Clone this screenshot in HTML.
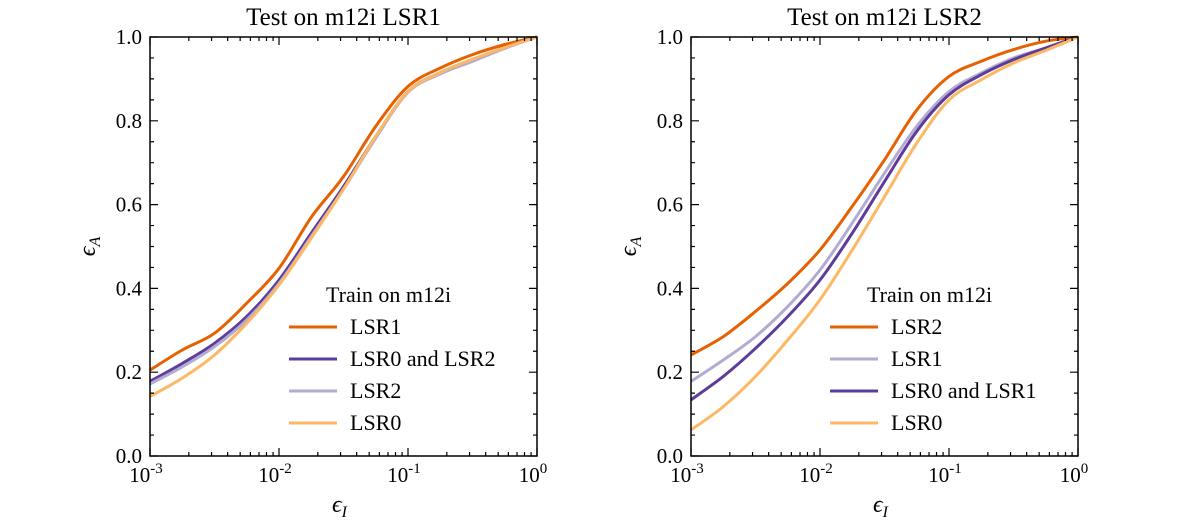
<!DOCTYPE html>
<html><head><meta charset="utf-8"><style>
body{margin:0;background:#fff;}
svg text{font-family:"Liberation Serif",serif;fill:#000;}
</style></head><body>
<svg id="c" width="1200" height="521" xmlns="http://www.w3.org/2000/svg"></svg>
<script>
const xLogs=[-3,-2.75,-2.5,-2.25,-2,-1.75,-1.5,-1.25,-1,-0.75,-0.5,-0.25,0];
const p1Names=["LSR1","LSR0 and LSR2","LSR2","LSR0"];
const p1Colors=["#e66101","#5e3c99","#b2abd2","#fdb863"];
const p1LSR1=[0.205,0.253,0.293,0.365,0.448,0.57,0.667,0.787,0.882,0.926,0.958,0.982,1];
const p1LSR02=[0.178,0.221,0.269,0.333,0.42,0.532,0.643,0.763,0.87,0.915,0.946,0.975,1];
const p1LSR2=[0.172,0.213,0.261,0.325,0.412,0.524,0.637,0.759,0.868,0.912,0.942,0.973,1];
const p1LSR0=[0.142,0.186,0.241,0.317,0.408,0.52,0.637,0.763,0.87,0.915,0.947,0.975,1];
const p2Names=["LSR2","LSR1","LSR0 and LSR1","LSR0"];
const p2Colors=["#e66101","#b2abd2","#5e3c99","#fdb863"];
const p2LSR2=[0.241,0.285,0.345,0.412,0.492,0.596,0.707,0.826,0.906,0.942,0.97,0.99,1];
const p2LSR1=[0.178,0.229,0.285,0.357,0.444,0.556,0.675,0.787,0.87,0.914,0.95,0.974,1];
const p2LSR01=[0.134,0.19,0.257,0.333,0.42,0.532,0.655,0.775,0.862,0.91,0.946,0.974,1];
const p2LSR0=[0.062,0.118,0.19,0.277,0.373,0.492,0.619,0.747,0.85,0.898,0.938,0.968,1];
const yTicks=[0,0.2,0.4,0.6,0.8,1.0];
const yTickLabels=["0.0","0.2","0.4","0.6","0.8","1.0"];
const xTicks=[-3,-2,-1,0];
const xTickExp=["-3","-2","-1","0"];

const svg=document.getElementById('c');
const NS="http://www.w3.org/2000/svg";
function mk(tag,at,parent){const e=document.createElementNS(NS,tag);for(const k in at)e.setAttribute(k,at[k]);(parent||svg).appendChild(e);return e;}
function smooth(pts){
  let d=`M${pts[0][0].toFixed(1)},${pts[0][1].toFixed(1)}`;
  for(let i=0;i<pts.length-1;i++){
    const p0=pts[Math.max(0,i-1)],p1=pts[i],p2=pts[i+1],p3=pts[Math.min(pts.length-1,i+2)];
    const c1=[p1[0]+(p2[0]-p0[0])/6,p1[1]+(p2[1]-p0[1])/6];
    const c2=[p2[0]-(p3[0]-p1[0])/6,p2[1]-(p3[1]-p1[1])/6];
    d+=`C${c1[0].toFixed(1)},${c1[1].toFixed(1)} ${c2[0].toFixed(1)},${c2[1].toFixed(1)} ${p2[0].toFixed(1)},${p2[1].toFixed(1)}`;
  }
  return d;
}

function panel(x0,title,series,names,colors,id){
  const x1=x0+387,y0=37,y1=456;
  const X=v=>x0+(v+3)/3*(x1-x0);
  const Y=v=>y1-v*(y1-y0);
  const g=mk('g',{});
  
  
  series.forEach((s,i)=>{
    const d=smooth(s.map((v,j)=>[X(xLogs[j]),Y(v)]));
    const p=mk('path',{d:d,fill:'none',stroke:colors[i],'stroke-width':3,'stroke-linejoin':'round'},g);
    
    
  });
  const fr=mk('rect',{x:x0,y:y0,width:x1-x0,height:y1-y0,fill:'none',stroke:'#000','stroke-width':1.5},g);
  
  
  let t='';
  for(let v=0;v<=1.0001;v+=0.05){const major=Math.abs(v*5-Math.round(v*5))<1e-6;const L=major?8:4;const yy=Y(v);
    t+=`M${x0},${yy}h${L}M${x1},${yy}h${-L}`;}
  for(let d=-3;d<=0;d++){const xx=X(d);t+=`M${xx},${y1}v-8M${xx},${y0}v8`;
    if(d<0)for(let m=2;m<10;m++){const xm=X(d+Math.log10(m));t+=`M${xm},${y1}v-4M${xm},${y0}v4`;}}
  mk('path',{d:t,stroke:'#000','stroke-width':1.2,fill:'none'},g);
  yTicks.forEach((v,i)=>{const tx=mk('text',{x:x0-8,y:Y(v)+7,'text-anchor':'end','font-size':21},g);tx.textContent=yTickLabels[i];
    });
  xTicks.forEach((v,i)=>{const tx=mk('text',{x:X(v)-4,y:482,'text-anchor':'middle','font-size':21},g);tx.textContent='10';
    const ts=mk('tspan',{dy:-9,'font-size':15},tx);ts.textContent=xTickExp[i];
    });
  const tt=mk('text',{x:(x0+x1)/2,y:25,'text-anchor':'middle','font-size':25},g);tt.textContent=title;
  
  const xl=mk('text',{x:(x0+x1)/2-4,y:512,'text-anchor':'middle','font-size':24,'font-style':'italic'},g);xl.textContent='ϵ';
  const xs=mk('tspan',{dy:5,'font-size':16},xl);xs.textContent='I';
  
  const yl=mk('text',{x:0,y:0,'text-anchor':'middle','font-size':24,'font-style':'italic',transform:`translate(${x0-55},${(y0+y1)/2}) rotate(-90)`},g);yl.textContent='ϵ';
  const ys=mk('tspan',{dy:5,'font-size':16},yl);ys.textContent='A';
  
  const lg=mk('g',{},g);
  
  const lt=mk('text',{x:x0+176,y:302,'font-size':22},lg);lt.textContent='Train on m12i';
  names.forEach((n,i)=>{const yy=327+i*32;
    mk('line',{x1:x0+139,x2:x0+187,y1:yy,y2:yy,stroke:colors[i],'stroke-width':3},lg);
    const e=mk('text',{x:x0+200,y:yy+7,'font-size':22},lg);e.textContent=n;
    });
}
panel(150,"Test on m12i LSR1",[p1LSR1,p1LSR02,p1LSR2,p1LSR0],p1Names,p1Colors,'panel-left');
panel(691,"Test on m12i LSR2",[p2LSR2,p2LSR1,p2LSR01,p2LSR0],p2Names,p2Colors,'panel-right');
</script>
</body></html>
